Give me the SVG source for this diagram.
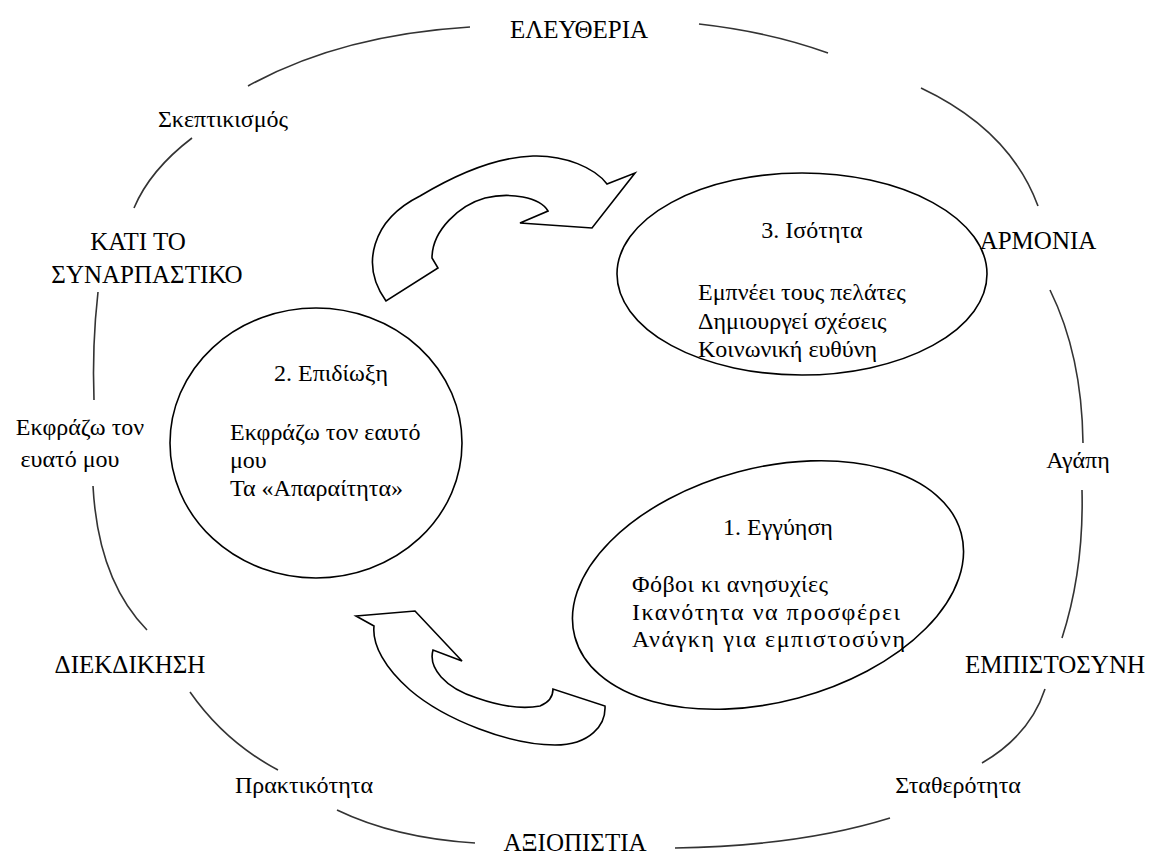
<svg xmlns="http://www.w3.org/2000/svg" width="1153" height="854" viewBox="0 0 1153 854">
<style>
text{font-family:"Liberation Serif","DejaVu Serif",serif;fill:#000}
.cap{font-size:25px}
.lbl{font-size:24px}
.in{font-size:24px}
.arc{fill:none;stroke:#333;stroke-width:1.6}
.ell{fill:#fff;stroke:#000;stroke-width:1.6}
.arr{fill:#fff;stroke:#000;stroke-width:1.6;stroke-linejoin:miter}
</style>
<rect width="1153" height="854" fill="#fff"/>
<g id="connectors">
<path class="arc" d="M248,86 Q340,35 470,27"/>
<path class="arc" d="M699,24 Q770,32 828,53"/>
<path class="arc" d="M921,88 Q1010,130 1038,206"/>
<path class="arc" d="M192,138 Q150,170 134,208"/>
<path class="arc" d="M98,292 Q92,345 94,400"/>
<path class="arc" d="M93,486 Q98,580 147,630"/>
<path class="arc" d="M190,692 Q225,742 278,770"/>
<path class="arc" d="M337,810 Q395,838 475,843"/>
<path class="arc" d="M675,848 Q800,846 890,818"/>
<path class="arc" d="M982,763 Q1030,735 1045,689"/>
<path class="arc" d="M1082,490 Q1084,570 1062,638"/>
<path class="arc" d="M1050,290 Q1082,355 1083,443"/>
<path id="arrow-2-3" class="arr" d="M386,301 C360,265 372,220 420,196 C460,172 500,157 533,156 C565,155 595,168 607,184 L635,173 L592,228 L520,223 L548,211 C540,197 510,192 485,198 C460,205 432,230 432,258 L438,268 Z"/>
<path id="arrow-1-2" class="arr" d="M356,616 L415,611 L462,661 L433,650 C428,668 445,688 477,698 C500,706 520,710 540,706 C550,702 553,695 553,689 L605,706 C606,725 590,745 555,745 C510,745 445,720 410,690 C385,668 372,645 374,626 Z"/>
</g>
<g id="node-isotita">
<ellipse class="ell" cx="802" cy="274" rx="185" ry="101"/>
<text class="in" x="812" y="238" text-anchor="middle">3. Ισότητα</text>
<text class="in" x="698" y="300">Εμπνέει τους πελάτες</text>
<text class="in" x="698" y="328.5">Δημιουργεί σχέσεις</text>
<text class="in" x="698" y="357">Κοινωνική ευθύνη</text>
</g>
<g id="node-epidioxi">
<ellipse class="ell" cx="316" cy="443" rx="146" ry="135"/>
<text class="in" x="331" y="381" text-anchor="middle">2. Επιδίωξη</text>
<text class="in" x="230" y="440">Εκφράζω τον εαυτό</text>
<text class="in" x="230" y="468">μου</text>
<text class="in" x="230" y="496">Τα «Απαραίτητα»</text>
</g>
<g id="node-eggyisi">
<ellipse class="ell" cx="768" cy="585" rx="200" ry="117" transform="rotate(-15 768 585)"/>
<text class="in" x="778" y="535" text-anchor="middle">1. Εγγύηση</text>
<text class="in" x="632" y="592" textLength="196" lengthAdjust="spacing">Φόβοι κι ανησυχίες</text>
<text class="in" x="632" y="620" textLength="268" lengthAdjust="spacing">Ικανότητα να προσφέρει</text>
<text class="in" x="632" y="647" textLength="273" lengthAdjust="spacing">Ανάγκη για εμπιστοσύνη</text>
</g>
<g id="label-eleftheria"><text class="cap" x="579" y="38" text-anchor="middle">ΕΛΕΥΘΕΡΙΑ</text></g>
<g id="label-skeptikismos"><text class="lbl" x="223" y="127" text-anchor="middle">Σκεπτικισμός</text></g>
<g id="label-kati"><text class="cap" x="138" y="250" text-anchor="middle">ΚΑΤΙ ΤΟ</text><text class="cap" x="147" y="283" text-anchor="middle">ΣΥΝΑΡΠΑΣΤΙΚΟ</text></g>
<g id="label-ekfrazo"><text class="lbl" x="80" y="435" text-anchor="middle">Εκφράζω τον</text><text class="lbl" x="70" y="467" text-anchor="middle">ευατό μου</text></g>
<g id="label-diekdikisi"><text class="cap" x="130" y="673" text-anchor="middle">ΔΙΕΚΔΙΚΗΣΗ</text></g>
<g id="label-praktikotita"><text class="lbl" x="304" y="793" text-anchor="middle">Πρακτικότητα</text></g>
<g id="label-axiopistia"><text class="cap" x="575" y="851" text-anchor="middle">ΑΞΙΟΠΙΣΤΙΑ</text></g>
<g id="label-statherotita"><text class="lbl" x="958" y="793" text-anchor="middle">Σταθερότητα</text></g>
<g id="label-empistosyni"><text class="cap" x="1055" y="673" text-anchor="middle">ΕΜΠΙΣΤΟΣΥΝΗ</text></g>
<g id="label-agapi"><text class="lbl" x="1078" y="468" text-anchor="middle">Αγάπη</text></g>
<g id="label-armonia"><text class="cap" x="1038" y="249" text-anchor="middle">ΑΡΜΟΝΙΑ</text></g>
</svg>
